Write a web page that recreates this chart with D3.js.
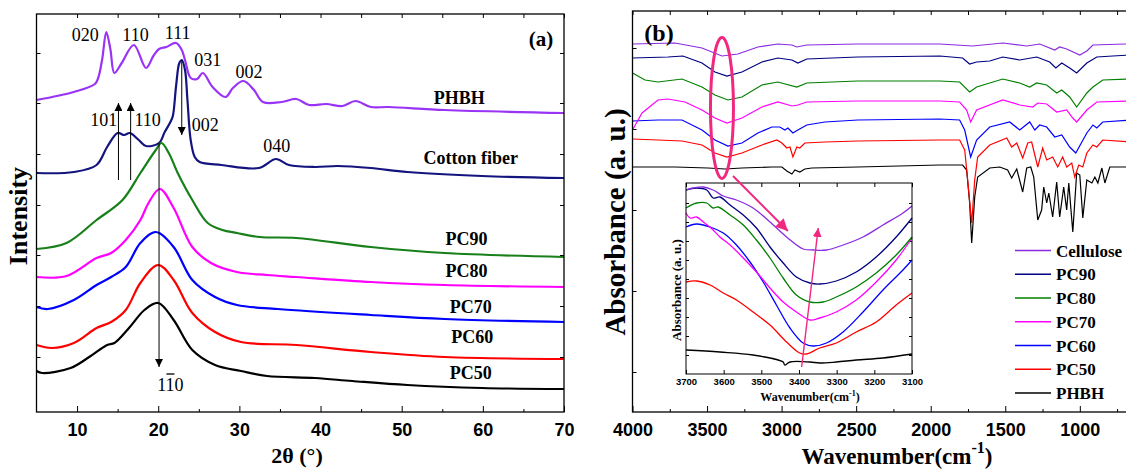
<!DOCTYPE html>
<html>
<head>
<meta charset="utf-8">
<script src="https://cdn.jsdelivr.net/npm/d3@7"></script>
<style>
  body { margin: 0; background: #fff; }
  svg { display: block; }
</style>
</head>
<body>
<div class="chart"></div>
<script>
// ---------- panel (a): XRD, [2theta, intensity] ----------
const xrdTicks = [10, 20, 30, 40, 50, 60, 70];
const xrdMinor = [15, 25, 35, 45, 55, 65];
const xrdSideTicks = [54, 105, 156, 206, 257, 308, 358];

const xrdPHBH = [[5,311],[9.6,319],[12.2,327],[12.6,333],[13.1,352],[13.6,379],[14.1,362],[14.6,338],[15.5,348],[17.0,366],[18.5,343],[19.4,355],[20.1,362],[21.0,364],[22.2,368],[22.9,361],[23.3,351],[24.0,333],[24.8,332],[25.5,338],[26.7,324],[28.3,314],[29.2,323],[30.5,330],[31.8,321],[32.9,309],[35.2,309],[37.0,312],[38.6,306],[40.7,307],[42.7,305],[44.3,310],[46.2,304],[48.4,304],[55.3,301],[70,298]];
const xrdCotton = [[5,238],[9.6,239],[12.4,246],[13.7,264],[15.0,278],[15.8,276],[16.5,278],[17.6,271],[18.5,265],[20.1,268],[20.8,279],[21.5,289],[21.8,295],[22.2,325],[22.6,348],[22.9,351],[23.3,341],[23.6,311],[24.0,271],[24.5,254],[25.1,249],[27.8,246],[32.4,243],[34.5,252],[36.1,246],[39.3,244],[42.1,245],[46.2,243],[50.7,239],[59.9,235],[70,233]];
const xrdPC90 = [[5,162],[8.7,168],[12.4,191],[15.6,211],[17.8,238],[19.7,261],[20.4,268],[21.3,258],[22.4,238],[24.2,211],[26.1,188],[27.9,181],[29.7,178],[32.5,174],[37.0,173],[46.2,164],[55.3,158],[70,154]];
const xrdPC80 = [[5,134],[8.7,135],[12.4,153],[14.2,158],[16.0,171],[17.8,191],[18.8,208],[20.2,222],[21.9,203],[24.2,164],[26.5,148],[29.7,139],[33.4,136],[37.0,134],[46.2,129],[55.3,126],[70,124]];
const xrdPC70 = [[5,104],[6.4,102],[9.6,111],[12.4,126],[14.2,134],[16.0,144],[17.8,168],[19.7,179],[21.9,164],[24.2,131],[27.0,114],[29.7,106],[34.7,102],[46.2,96],[55.3,92],[70,89]];
const xrdPC60 = [[5,66],[6.9,63],[9.6,68],[12.4,83],[14.2,89],[16.0,101],[17.8,128],[20.0,146],[21.9,131],[24.2,98],[27.0,79],[30.2,69],[37.0,66],[46.2,59],[55.3,54],[70,52]];
const xrdPC50 = [[5,40],[5.7,38],[9.2,43],[11.5,54],[13.7,66],[14.6,68],[16.5,84],[18.3,101],[20.0,108],[21.9,91],[24.2,61],[27.0,46],[30.2,40],[33.4,35],[39.3,33],[43.9,30],[50.7,26],[59.9,23],[70,22]];

const xrdSeries = [xrdPHBH, xrdCotton, xrdPC90, xrdPC80, xrdPC70, xrdPC60, xrdPC50];
const xrdNames = ["PHBH", "Cotton fiber", "PC90", "PC80", "PC70", "PC60", "PC50"];
const xrdColors = ["#9933f5", "#14147f", "#17801a", "#ff00ff", "#0000ff", "#ff0000", "#000000"];
// label anchor [2theta, intensity]
const xrdLabelPos = [[57.1,307],[58.5,247],[58.0,166],[58.0,134],[58.5,98],[58.7,68],[58.5,32]];

// miller indices [text, 2theta, intensity]
const peakLabels = [["020",11.0,370],["110",17.2,370],["111",22.4,372],["031",26.1,345],["002",31.2,333],
                    ["101",13.3,285],["110",18.7,285],["002",25.8,280],["040",34.6,259]];

// ---------- panel (b): FTIR, [wavenumber, absorbance] ----------
const ftirTicks = [4000, 3500, 3000, 2500, 2000, 1500, 1000];
const ftirMinor = [3750, 3250, 2750, 2250, 1750, 1250, 750];
const ftirSideTicks = [40, 121, 202, 283, 364];

const ftirCellulose = [[4000,368],[3715,369],[3534,364],[3400,356],[3293,358],[3159,365],[3025,368],[2931,367],[2898,365],[2831,367],[2489,368],[1939,368],[1719,366],[1517,369],[1356,366],[1269,368],[1168,362],[1135,365],[1088,363],[1000,357],[953,361],[912,367],[692,368],[660,368]];
const ftirPC90 = [[4000,354],[3762,355],[3662,356],[3534,349],[3447,340],[3367,336],[3266,340],[3132,350],[3025,354],[2931,352],[2891,349],[2831,353],[2489,355],[1939,356],[1786,354],[1739,348],[1692,350],[1604,351],[1517,355],[1403,352],[1289,355],[1202,350],[1161,344],[1121,349],[1068,344],[1021,339],[953,349],[886,355],[779,356],[660,357]];
const ftirPC80 = [[4000,339],[3916,332],[3829,330],[3668,333],[3534,325],[3447,317],[3360,312],[3266,315],[3132,327],[3025,330],[2898,325],[2831,329],[2489,331],[1939,331],[1806,330],[1739,320],[1692,325],[1517,333],[1403,329],[1336,325],[1289,329],[1222,327],[1155,319],[1121,322],[1068,315],[1021,305],[953,319],[912,325],[846,332],[660,333]];
const ftirPC70 = [[4000,282],[3936,299],[3829,312],[3762,313],[3648,310],[3534,302],[3447,294],[3367,289],[3266,294],[3132,305],[3025,310],[2931,306],[2891,307],[2831,310],[2489,311],[1939,311],[1806,310],[1759,302],[1732,290],[1692,302],[1517,312],[1403,307],[1316,305],[1282,309],[1222,308],[1155,300],[1088,302],[1047,294],[1021,290],[953,302],[886,310],[660,311]];
const ftirPC60 = [[4000,291],[3829,292],[3668,292],[3534,282],[3447,272],[3360,266],[3266,269],[3159,279],[3065,285],[3012,285],[2978,282],[2958,284],[2924,279],[2891,282],[2831,287],[2710,290],[2489,292],[1939,293],[1806,292],[1772,282],[1732,255],[1692,272],[1604,285],[1470,290],[1403,282],[1336,290],[1302,282],[1269,287],[1222,285],[1168,275],[1121,277],[1068,265],[1027,259],[953,279],[912,287],[886,284],[846,290],[660,292]];
const ftirPC50 = [[4000,273],[3829,272],[3668,271],[3534,267],[3447,259],[3367,255],[3266,259],[3132,267],[3032,272],[2998,269],[2965,264],[2944,265],[2924,255],[2898,265],[2878,264],[2844,269],[2710,270],[2489,271],[1939,272],[1806,272],[1772,262],[1752,232],[1725,189],[1705,232],[1685,255],[1604,267],[1490,274],[1457,265],[1423,269],[1383,254],[1349,269],[1323,270],[1282,245],[1249,264],[1222,252],[1182,255],[1148,245],[1115,255],[1088,245],[1054,249],[1034,235],[1007,247],[980,245],[953,259],[912,267],[886,265],[846,272],[660,270]];
const ftirPHBH = [[4000,245],[3715,245],[3494,244],[3380,243],[3266,244],[3065,245],[2998,245],[2965,241],[2931,238],[2911,242],[2878,240],[2844,243],[2797,244],[2489,245],[1939,247],[1786,247],[1759,242],[1739,209],[1725,169],[1705,215],[1685,235],[1604,244],[1537,245],[1484,242],[1457,234],[1423,243],[1383,220],[1356,244],[1329,245],[1309,235],[1282,192],[1256,202],[1242,225],[1222,209],[1208,219],[1182,195],[1155,230],[1135,195],[1108,225],[1088,202],[1074,229],[1047,180],[1021,239],[1000,237],[980,194],[953,232],[919,229],[899,235],[879,229],[852,244],[832,229],[799,245],[752,245],[660,245]];

// inset, 3700-3100 cm-1
const insetTicks = [3700, 3600, 3500, 3400, 3300, 3200, 3100];
const insetSideTicks = [19, 38, 57, 76, 95, 114, 133, 152, 171];
const insetCellulose = [[3700,184],[3681,186],[3654,187],[3628,184],[3601,178],[3566,174],[3522,166],[3477,152],[3433,137],[3389,125],[3362,124],[3327,124],[3283,129],[3230,137],[3177,149],[3124,161],[3100,168]];
const insetPC90 = [[3700,184],[3672,186],[3645,184],[3628,176],[3610,177],[3583,169],[3548,159],[3513,146],[3477,127],[3442,111],[3407,97],[3371,91],[3345,90],[3301,93],[3248,102],[3195,117],[3142,137],[3100,156]];
const insetPC80 = [[3700,166],[3672,171],[3645,171],[3628,166],[3615,167],[3583,159],[3548,149],[3513,134],[3477,116],[3442,96],[3407,79],[3371,72],[3336,72],[3301,77],[3248,87],[3195,101],[3142,119],[3100,137]];
const insetPC70 = [[3700,161],[3689,156],[3672,157],[3654,152],[3628,144],[3610,137],[3583,129],[3548,116],[3513,102],[3477,86],[3442,72],[3407,62],[3371,54],[3345,56],[3301,62],[3248,74],[3195,92],[3142,114],[3100,136]];
const insetPC60 = [[3700,147],[3672,150],[3636,147],[3601,141],[3566,129],[3530,112],[3495,92],[3460,69],[3424,46],[3389,31],[3362,28],[3327,31],[3283,42],[3230,62],[3177,84],[3124,104],[3100,114]];
const insetPC50 = [[3700,92],[3672,93],[3636,89],[3601,81],[3566,74],[3522,62],[3477,49],[3433,32],[3398,21],[3380,20],[3345,26],[3301,31],[3248,42],[3195,52],[3142,69],[3100,81]];
const insetPHBH = [[3700,24],[3610,22],[3522,19],[3442,12],[3438,9],[3424,12],[3371,12],[3345,11],[3301,12],[3248,14],[3177,16],[3100,20]];

const ftirNames = ["Cellulose", "PC90", "PC80", "PC70", "PC60", "PC50", "PHBH"];
const ftirColors = ["#8a2be2", "#000080", "#008000", "#ff00ff", "#0000ff", "#ff0000", "#000000"];
const ftirSeries = [ftirCellulose, ftirPC90, ftirPC80, ftirPC70, ftirPC60, ftirPC50, ftirPHBH];
const insetSeries = [insetCellulose, insetPC90, insetPC80, insetPC70, insetPC60, insetPC50, insetPHBH];

const serif = "'Liberation Serif', 'Times New Roman', serif";
const sans = "'Liberation Sans', Arial, sans-serif";
const pink = "#f0287f";
const plain = d3.format('d');

const svg = d3.select('.chart').append('svg')
    .attr('width', 1126)
    .attr('height', 470);

const defs = svg.append('defs');
function marker(id, color, size) {
    defs.append('marker')
        .attr('id', id)
        .attr('viewBox', '0 0 10 10')
        .attr('refX', 10).attr('refY', 5)
        .attr('markerWidth', size).attr('markerHeight', size)
        .attr('markerUnits', 'userSpaceOnUse')
        .attr('orient', 'auto')
        .append('path').attr('d', 'M0,0L10,5L0,10z').attr('fill', color);
}
marker('arrK', '#000', 8);
marker('arrP', pink, 12);
marker('arrPs', pink, 9);

// ================= panel (a) =================
const xA = d3.scaleLinear().domain([5, 70]).range([36.5, 564]);
const yA = d3.scaleLinear().domain([-1, 397]).range([412, 14]);

const gA = svg.append('g');

gA.append('g')
    .attr('transform', 'translate(0,412)')
    .call(d3.axisBottom(xA).tickValues(xrdTicks).tickFormat(plain).tickSize(-6).tickPadding(11))
    .call(g => g.select('.domain').remove())
    .call(g => g.selectAll('text').attr('font-family', sans).attr('font-weight', 'bold').attr('font-size', 18));
gA.append('g')
    .attr('transform', 'translate(0,412)')
    .call(d3.axisBottom(xA).tickValues(xrdMinor).tickSize(-3).tickFormat(''))
    .call(g => g.select('.domain').remove());
gA.append('g')
    .attr('transform', 'translate(0,14)')
    .call(d3.axisTop(xA).tickValues(xrdTicks.concat(xrdMinor)).tickSize(-4).tickFormat(''))
    .call(g => g.select('.domain').remove());
gA.append('g')
    .attr('transform', 'translate(36.5,0)')
    .call(d3.axisLeft(yA).tickValues(xrdSideTicks).tickSize(-4).tickFormat(''))
    .call(g => g.select('.domain').remove());
gA.append('g')
    .attr('transform', 'translate(564,0)')
    .call(d3.axisRight(yA).tickValues(xrdSideTicks).tickSize(-4).tickFormat(''))
    .call(g => g.select('.domain').remove());

const lineA = d3.line()
    .x(d => xA(d[0]))
    .y(d => yA(d[1]))
    .curve(d3.curveCatmullRom.alpha(0.5));

gA.selectAll('path.xrd')
    .data(xrdSeries)
    .join('path')
    .attr('class', 'xrd')
    .attr('d', lineA)
    .attr('fill', 'none')
    .attr('stroke', (d, i) => xrdColors[i])
    .attr('stroke-width', 2.2)
    .attr('stroke-linejoin', 'round');

gA.append('rect')
    .attr('x', 36.5).attr('y', 14)
    .attr('width', 564 - 36.5).attr('height', 412 - 14)
    .attr('fill', 'none').attr('stroke', '#000').attr('stroke-width', 1.3);

gA.selectAll('text.name')
    .data(xrdNames)
    .join('text')
    .attr('class', 'name')
    .attr('x', (d, i) => xA(xrdLabelPos[i][0]))
    .attr('y', (d, i) => yA(xrdLabelPos[i][1]))
    .attr('text-anchor', 'middle')
    .attr('font-family', serif).attr('font-weight', 'bold').attr('font-size', 18)
    .text(d => d);

gA.selectAll('text.peak')
    .data(peakLabels)
    .join('text')
    .attr('class', 'peak')
    .attr('x', d => xA(d[1]))
    .attr('y', d => yA(d[2]))
    .attr('text-anchor', 'middle')
    .attr('font-family', serif).attr('font-size', 18)
    .text(d => d[0]);

// arrows in (a): [2theta, from, to]
const arrowsA = [[15.1, 231, 308], [16.6, 231, 308], [22.9, 351, 276], [20.1, 268, 44]];
gA.selectAll('line.arr')
    .data(arrowsA)
    .join('line')
    .attr('class', 'arr')
    .attr('x1', d => xA(d[0])).attr('x2', d => xA(d[0]))
    .attr('y1', d => yA(d[1])).attr('y2', d => yA(d[2]))
    .attr('stroke', '#000').attr('stroke-width', 1)
    .attr('marker-end', 'url(#arrK)');

// 1-10 reflection, bar over the middle digit
gA.append('text')
    .attr('x', xA(21.5)).attr('y', 391)
    .attr('text-anchor', 'middle')
    .attr('font-family', serif).attr('font-size', 18)
    .text('110');
gA.append('line')
    .attr('x1', xA(21.5) - 4).attr('x2', xA(21.5) + 4)
    .attr('y1', 374).attr('y2', 374)
    .attr('stroke', '#000').attr('stroke-width', 1.3);

gA.append('text')
    .attr('x', 541).attr('y', 46)
    .attr('text-anchor', 'middle')
    .attr('font-family', serif).attr('font-weight', 'bold').attr('font-size', 21)
    .text('(a)');

gA.append('text')
    .attr('transform', 'translate(27,216) rotate(-90)')
    .attr('text-anchor', 'middle')
    .attr('font-family', serif).attr('font-weight', 'bold').attr('font-size', 26)
    .text('Intensity');

gA.append('text')
    .attr('x', 297).attr('y', 463)
    .attr('text-anchor', 'middle')
    .attr('font-family', serif).attr('font-weight', 'bold').attr('font-size', 22)
    .text('2θ (°)');

// ================= panel (b) =================
const xB = d3.scaleLinear().domain([4000, 650]).range([632.5, 1132]);
const yB = d3.scaleLinear().domain([0, 401]).range([412, 11]);

const gB = svg.append('g');

gB.append('g')
    .attr('transform', 'translate(0,412)')
    .call(d3.axisBottom(xB).tickValues(ftirTicks).tickFormat(plain).tickSize(-6).tickPadding(11))
    .call(g => g.select('.domain').remove())
    .call(g => g.selectAll('text').attr('font-family', sans).attr('font-weight', 'bold').attr('font-size', 18));
gB.append('g')
    .attr('transform', 'translate(0,412)')
    .call(d3.axisBottom(xB).tickValues(ftirMinor).tickSize(-3).tickFormat(''))
    .call(g => g.select('.domain').remove());
gB.append('g')
    .attr('transform', 'translate(0,11)')
    .call(d3.axisTop(xB).tickValues(ftirTicks.concat(ftirMinor)).tickSize(-4).tickFormat(''))
    .call(g => g.select('.domain').remove());
gB.append('g')
    .attr('transform', 'translate(632.5,0)')
    .call(d3.axisLeft(yB).tickValues(ftirSideTicks).tickSize(-4).tickFormat(''))
    .call(g => g.select('.domain').remove());

const lineB = d3.line()
    .x(d => xB(d[0]))
    .y(d => yB(d[1]));

// bottom curve first so the upper ones lie on top
gB.selectAll('path.ftir')
    .data(ftirSeries.map((d, i) => ({ d, i })).reverse())
    .join('path')
    .attr('class', 'ftir')
    .attr('d', o => lineB(o.d))
    .attr('fill', 'none')
    .attr('stroke', o => ftirColors[o.i])
    .attr('stroke-width', 1.2);

gB.append('rect')
    .attr('x', 632.5).attr('y', 11)
    .attr('width', 1132 - 632.5).attr('height', 412 - 11)
    .attr('fill', 'none').attr('stroke', '#000').attr('stroke-width', 1.3);

gB.append('text')
    .attr('x', 659).attr('y', 41)
    .attr('text-anchor', 'middle')
    .attr('font-family', serif).attr('font-weight', 'bold').attr('font-size', 24)
    .text('(b)');

// ----- inset -----
const xI = d3.scaleLinear().domain([3700, 3100]).range([686, 912]);
const yI = d3.scaleLinear().domain([0, 191]).range([374, 183]);
const gI = gB.append('g');

gI.append('rect')
    .attr('x', 686).attr('y', 183)
    .attr('width', 912 - 686).attr('height', 374 - 183)
    .attr('fill', '#fff');

gI.append('g')
    .attr('transform', 'translate(0,374)')
    .call(d3.axisBottom(xI).tickValues(insetTicks).tickFormat(plain).tickSize(-4).tickPadding(4))
    .call(g => g.select('.domain').remove())
    .call(g => g.selectAll('text').attr('font-family', sans).attr('font-weight', 'bold').attr('font-size', 9.5));
gI.append('g')
    .attr('transform', 'translate(0,183)')
    .call(d3.axisTop(xI).tickValues(insetTicks).tickSize(-4).tickFormat(''))
    .call(g => g.select('.domain').remove());
gI.append('g')
    .attr('transform', 'translate(686,0)')
    .call(d3.axisLeft(yI).tickValues(insetSideTicks).tickSize(-3).tickFormat(''))
    .call(g => g.select('.domain').remove());
gI.append('g')
    .attr('transform', 'translate(912,0)')
    .call(d3.axisRight(yI).tickValues(insetSideTicks).tickSize(-3).tickFormat(''))
    .call(g => g.select('.domain').remove());

const lineI = d3.line()
    .x(d => xI(d[0]))
    .y(d => yI(d[1]))
    .curve(d3.curveCatmullRom.alpha(0.5));

gI.selectAll('path.ins')
    .data(insetSeries.map((d, i) => ({ d, i })).reverse())
    .join('path')
    .attr('class', 'ins')
    .attr('d', o => lineI(o.d))
    .attr('fill', 'none')
    .attr('stroke', o => ftirColors[o.i])
    .attr('stroke-width', 1.3);

gI.append('rect')
    .attr('x', 686).attr('y', 183)
    .attr('width', 912 - 686).attr('height', 374 - 183)
    .attr('fill', 'none').attr('stroke', '#000').attr('stroke-width', 1);

gI.append('line')
    .attr('x1', xI(3393)).attr('y1', yI(7))
    .attr('x2', xI(3349)).attr('y2', yI(146))
    .attr('stroke', pink).attr('stroke-width', 1.4)
    .attr('marker-end', 'url(#arrPs)');

gI.append('text')
    .attr('transform', 'translate(681,290) rotate(-90)')
    .attr('text-anchor', 'middle')
    .attr('font-family', serif).attr('font-weight', 'bold').attr('font-size', 13)
    .text('Absorbance (a. u.)');

const insetTitle = gI.append('text')
    .attr('x', 810).attr('y', 401)
    .attr('text-anchor', 'middle')
    .attr('font-family', serif).attr('font-weight', 'bold').attr('font-size', 12);
insetTitle.append('tspan').text('Wavenumber(cm');
insetTitle.append('tspan').attr('dy', -5).attr('font-size', 8).text('-1');
insetTitle.append('tspan').attr('dy', 5).text(')');

// highlight of the O-H band, drawn after the inset so the arrow stays on top
gB.append('ellipse')
    .attr('cx', xB(3400)).attr('cy', yB(304))
    .attr('rx', 11.5).attr('ry', 70.5)
    .attr('fill', 'none').attr('stroke', pink).attr('stroke-width', 3);
gB.append('line')
    .attr('x1', xB(3326)).attr('y1', yB(236))
    .attr('x2', xB(2958)).attr('y2', yB(181))
    .attr('stroke', pink).attr('stroke-width', 2)
    .attr('marker-end', 'url(#arrP)');

// ----- legend -----
const gL = gB.append('g');
gL.selectAll('line')
    .data(ftirNames)
    .join('line')
    .attr('x1', 1015).attr('x2', 1051)
    .attr('y1', (d, i) => 250.5 + i * 23.75)
    .attr('y2', (d, i) => 250.5 + i * 23.75)
    .attr('stroke', (d, i) => ftirColors[i])
    .attr('stroke-width', 1.5);
gL.selectAll('text')
    .data(ftirNames)
    .join('text')
    .attr('x', 1056)
    .attr('y', (d, i) => 250.5 + i * 23.75 + 6)
    .attr('font-family', serif).attr('font-weight', 'bold').attr('font-size', 17)
    .text(d => d);

// ----- axis titles -----
gB.append('text')
    .attr('transform', 'translate(625,222) rotate(-90)')
    .attr('text-anchor', 'middle')
    .attr('font-family', serif).attr('font-weight', 'bold').attr('font-size', 29)
    .text('Absorbance (a. u.)');

const xTitle = gB.append('text')
    .attr('x', 897).attr('y', 464)
    .attr('text-anchor', 'middle')
    .attr('font-family', serif).attr('font-weight', 'bold').attr('font-size', 23);
xTitle.append('tspan').text('Wavenumber(cm');
xTitle.append('tspan').attr('dy', -11).attr('font-size', 16).text('-1');
xTitle.append('tspan').attr('dy', 11).text(')');
</script>
</body>
</html>
